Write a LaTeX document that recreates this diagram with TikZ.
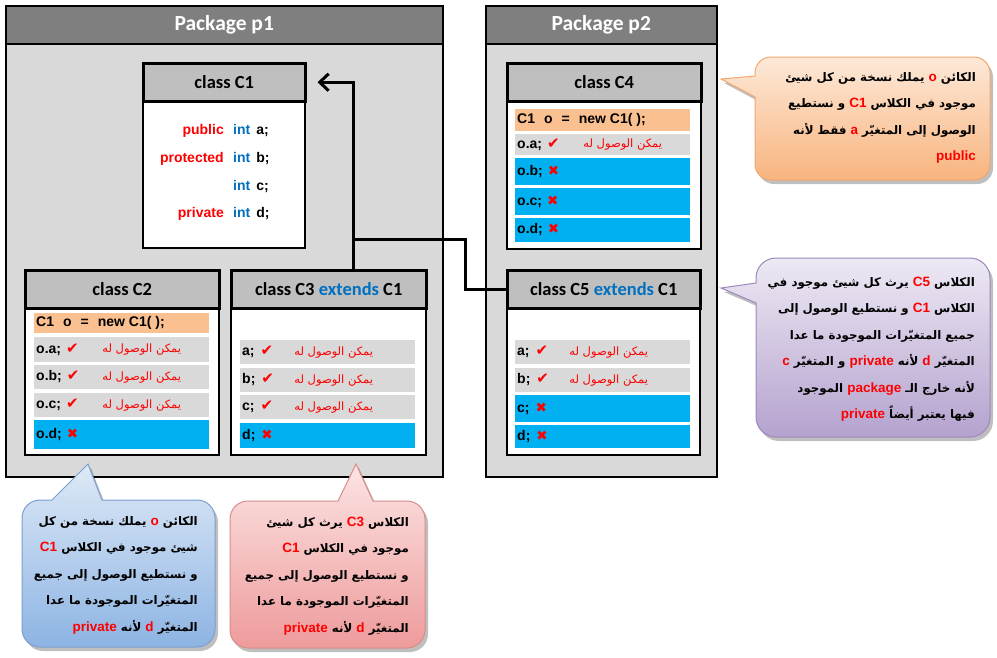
\documentclass[tikz,border=0pt]{standalone}
\usepackage{fontspec}
\setmainfont{Carlito}
\newfontfamily\arialf{Liberation Sans}
\newfontfamily\arabicfont[Script=Arabic]{DejaVu Sans}
\newfontfamily\symf{DejaVu Sans}
\usetikzlibrary{arrows.meta}
\TeXXeTstate=1
\definecolor{pkghead}{HTML}{7F7F7F}
\definecolor{pkgbody}{HTML}{D9D9D9}
\definecolor{chead}{HTML}{BFBFBF}
\definecolor{rowor}{HTML}{FAC090}
\definecolor{rowgr}{HTML}{D9D9D9}
\definecolor{rowbl}{HTML}{00B0F0}
\definecolor{kwred}{HTML}{FF0000}
\definecolor{intblue}{HTML}{0070C0}
\definecolor{orT}{HTML}{FDE9D9}\definecolor{orB}{HTML}{F8B47E}\definecolor{orD}{HTML}{F2A66E}
\definecolor{puT}{HTML}{EEE9F4}\definecolor{puB}{HTML}{B4A2CE}\definecolor{puD}{HTML}{9C88BC}
\definecolor{blT}{HTML}{DEE9F6}\definecolor{blB}{HTML}{8DB4E3}\definecolor{blD}{HTML}{7A9FCF}
\definecolor{reT}{HTML}{FCE4E4}\definecolor{reB}{HTML}{EE9B9B}\definecolor{reD}{HTML}{D98C8C}
\newcommand\redlat[1]{\beginL{\arialf\bfseries\fontsize{13.5}{14}\selectfont\color{kwred}#1}\endL}
\newcommand\chk{{\symf\fontsize{15}{15}\selectfont\color{kwred}✔}}
\newcommand\crs{{\symf\fontsize{13.5}{13.5}\selectfont\color{kwred}✖}}
\newcommand\acc{{\arabicfont\fontsize{11.5}{12}\selectfont\color{kwred}\beginR يمكن الوصول له\endR}}
\newcommand\crow[7]{%
  \node[rowst, fill=#6, minimum width=#4pt, minimum height=#5pt] (#1) at (#2,#3) {};
  \node[codest, anchor=west] (#1t) at ([xshift=2pt]#1.west) {#7};}
\newcommand\accl[3]{\node[inner sep=0] (#1) at ([xshift=#3pt]#2.center) {\acc};}
\def\opath{(755,97) -- (755,164) arc[start angle=180,end angle=90,radius=16] -- (974,180) arc[start angle=90,end angle=0,radius=16] -- (990,73) arc[start angle=0,end angle=-90,radius=16] -- (771,57) arc[start angle=-90,end angle=-180,radius=16] -- (755,76) -- (721,79) -- cycle}
\def\ppath{(756,303) -- (756,417) arc[start angle=180,end angle=90,radius=20] -- (970,437) arc[start angle=90,end angle=0,radius=20] -- (990,278) arc[start angle=0,end angle=-90,radius=20] -- (776,258) arc[start angle=-90,end angle=-180,radius=20] -- (756,283) -- (721,288) -- cycle}
\def\bpath{(102,500) -- (197,500) arc[start angle=-90,end angle=0,radius=18] -- (215,629) arc[start angle=0,end angle=90,radius=18] -- (40,647) arc[start angle=90,end angle=180,radius=18] -- (22,518) arc[start angle=180,end angle=270,radius=18] -- (52,500) -- (88,464) -- cycle}
\def\rpath{(373,501) -- (407,501) arc[start angle=-90,end angle=0,radius=18] -- (425,630) arc[start angle=0,end angle=90,radius=18] -- (248,648) arc[start angle=90,end angle=180,radius=18] -- (230,519) arc[start angle=180,end angle=270,radius=18] -- (338,501) -- (356,464) -- cycle}
\tikzset{
  pkgbox/.style={draw=black, line width=1.5pt, fill=pkgbody, anchor=north west, inner sep=0},
  pkghd/.style={draw=black, line width=1.5pt, fill=pkghead, anchor=north west, inner sep=0, text=white, font=\bfseries\fontsize{21.5}{24}\selectfont},
  cbox/.style={draw=black, line width=2pt, fill=white, anchor=north west, inner sep=0},
  chd/.style={draw=black, line width=2.5pt, fill=chead, anchor=north west, inner sep=0, font=\bfseries\fontsize{18.5}{20}\selectfont},
  rowst/.style={anchor=north west, inner sep=0, draw=none},
  codest/.style={font=\arialf\bfseries\fontsize{14}{16}\selectfont, inner sep=0, text height=10pt, text depth=3pt},
  conn/.style={line width=3pt, black, line join=miter},
  cshadow/.style={fill=black, opacity=0.25},
  calltext/.style={font=\arabicfont\bfseries\fontsize{11.8}{26.5}\selectfont, align=right, inner sep=0, anchor=east}
}
\begin{document}
\begin{tikzpicture}[x=1pt,y=-1pt]
\useasboundingbox (0,0) rectangle (997,657);
\fill[white] (0,0) rectangle (997,657);
% packages
\node[pkgbox, minimum width=437pt, minimum height=471pt] (p1) at (5,5) {};
\node[pkghd, minimum width=437pt, minimum height=38pt] (p1h) at (5,5) {Package p1};
\node[pkgbox, minimum width=231pt, minimum height=471pt] (p2) at (485,5) {};
\node[pkghd, minimum width=231pt, minimum height=38pt] (p2h) at (485,5) {Package p2};
% class boxes
\node[cbox, minimum width=162pt, minimum height=185pt] (c1) at (142,62) {};
\node[chd, minimum width=162pt, minimum height=38pt] (c1h) at (142,62) {class C1};
\node[cbox, minimum width=194pt, minimum height=185pt] (c2) at (24,269) {};
\node[chd, minimum width=194pt, minimum height=38pt] (c2h) at (24,269) {class C2};
\node[cbox, minimum width=195pt, minimum height=185pt] (c3) at (230,269) {};
\node[chd, minimum width=195pt, minimum height=38pt] (c3h) at (230,269) {class C3 \textcolor{intblue}{extends} C1};
\node[cbox, minimum width=194pt, minimum height=186pt] (c4) at (506,62) {};
\node[chd, minimum width=194pt, minimum height=38pt] (c4h) at (506,62) {class C4};
\node[cbox, minimum width=193pt, minimum height=185pt] (c5) at (506,269) {};
\node[chd, minimum width=193pt, minimum height=38pt] (c5h) at (506,269) {class C5 \textcolor{intblue}{extends} C1};
% connectors
\coordinate (jn) at (353,239);
\coordinate (bend) at (465,239);
\draw[conn, -{Straight Barb[length=9pt,width=17pt]}, shorten >=11pt] (c3h.north -| jn) |- (c1h.east);
\draw[conn] (c5h.west) -| (bend) -- (jn);
% C1 members
\node[codest, anchor=east, text=kwred] (k1) at (224,131) {public};
\node[codest, anchor=west] (v1) at (233,131) {\textcolor{intblue}{int}\hspace{6pt}a;};
\node[codest, anchor=east, text=kwred] (k2) at (224,159) {protected};
\node[codest, anchor=west] (v2) at (233,159) {\textcolor{intblue}{int}\hspace{6pt}b;};
\node[codest, anchor=west] (v3) at (233,187) {\textcolor{intblue}{int}\hspace{6pt}c;};
\node[codest, anchor=east, text=kwred] (k4) at (224,214) {private};
\node[codest, anchor=west] (v4) at (233,214) {\textcolor{intblue}{int}\hspace{6pt}d;};
% C2 rows
\crow{r20}{34}{313}{175}{20}{rowor}{C1\hspace{9pt}o\hspace{9pt}=\hspace{9pt}new C1(\hspace{4pt});}
\crow{r21}{34}{337}{175}{25}{rowgr}{o.a;\hspace{5pt}\chk}
\crow{r22}{34}{365}{175}{24}{rowgr}{o.b;\hspace{5pt}\chk}
\crow{r23}{34}{393}{175}{24}{rowgr}{o.c;\hspace{5pt}\chk}
\crow{r24}{34}{420}{175}{29}{rowbl}{o.d;\hspace{5pt}\crs}
\accl{a21}{r21}{20}\accl{a22}{r22}{20}\accl{a23}{r23}{20}
% C3 rows
\crow{r31}{240}{340}{175}{24}{rowgr}{a;\hspace{6pt}\chk}
\crow{r32}{240}{368}{175}{24}{rowgr}{b;\hspace{6pt}\chk}
\crow{r33}{240}{395}{175}{24}{rowgr}{c;\hspace{6pt}\chk}
\crow{r34}{240}{423}{175}{25}{rowbl}{d;\hspace{6pt}\crs}
\accl{a31}{r31}{6}\accl{a32}{r32}{6}\accl{a33}{r33}{6}
% C4 rows
\crow{r40}{515}{109}{175}{22}{rowor}{C1\hspace{9pt}o\hspace{9pt}=\hspace{9pt}new C1(\hspace{4pt});}
\crow{r41}{515}{134}{175}{21}{rowgr}{o.a;\hspace{5pt}\chk}
\crow{r42}{515}{158}{175}{27}{rowbl}{o.b;\hspace{5pt}\crs}
\crow{r43}{515}{188}{175}{27}{rowbl}{o.c;\hspace{5pt}\crs}
\crow{r44}{515}{218}{175}{24}{rowbl}{o.d;\hspace{5pt}\crs}
\accl{a41}{r41}{20}
% C5 rows
\crow{r51}{515}{340}{175}{24}{rowgr}{a;\hspace{6pt}\chk}
\crow{r52}{515}{368}{175}{24}{rowgr}{b;\hspace{6pt}\chk}
\crow{r53}{515}{395}{175}{27}{rowbl}{c;\hspace{6pt}\crs}
\crow{r54}{515}{425}{175}{23}{rowbl}{d;\hspace{6pt}\crs}
\accl{a51}{r51}{6}\accl{a52}{r52}{6}
% callouts
\fill[cshadow, shift={(3,4)}] \opath;
\path[draw=orD, line width=1pt, top color=orT, bottom color=orB] \opath;
\fill[cshadow, shift={(3,4)}] \ppath;
\path[draw=puD, line width=1pt, top color=puT, bottom color=puB] \ppath;
\fill[cshadow, shift={(3,4)}] \bpath;
\path[draw=blD, line width=1pt, top color=blT, bottom color=blB] \bpath;
\fill[cshadow, shift={(3,4)}] \rpath;
\path[draw=reD, line width=1pt, top color=reT, bottom color=reB] \rpath;
\node[calltext] (t1) at (976,118) {%
\beginR الكائن \redlat{o} يملك نسخة من كل شيئ\endR\\
\beginR موجود في الكلاس \redlat{C1} و نستطيع\endR\\
\beginR الوصول إلى المتغيّر \redlat{a} فقط لأنه\endR\\
\beginR\redlat{public}\endR};
\node[calltext] (t2) at (975,349) {%
\beginR الكلاس \redlat{C5} يرث كل شيئ موجود في\endR\\
\beginR الكلاس \redlat{C1} و نستطيع الوصول إلى\endR\\
\beginR جميع المتغيّرات الموجودة ما عدا\endR\\
\beginR المتغيّر \redlat{d} لأنه \redlat{private} و المتغيّر \redlat{c}\endR\\
\beginR لأنه خارج الـ \redlat{package} الموجود\endR\\
\beginR فيها يعتبر أيضاً \redlat{private}\endR};
\node[calltext] (t3) at (198,575) {%
\beginR الكائن \redlat{o} يملك نسخة من كل\endR\\
\beginR شيئ موجود في الكلاس \redlat{C1}\endR\\
\beginR و نستطيع الوصول إلى جميع\endR\\
\beginR المتغيّرات الموجودة ما عدا\endR\\
\beginR المتغيّر \redlat{d} لأنه \redlat{private}\endR};
\node[calltext] (t4) at (409,576) {%
\beginR الكلاس \redlat{C3} يرث كل شيئ\endR\\
\beginR موجود في الكلاس \redlat{C1}\endR\\
\beginR و نستطيع الوصول إلى جميع\endR\\
\beginR المتغيّرات الموجودة ما عدا\endR\\
\beginR المتغيّر \redlat{d} لأنه \redlat{private}\endR};
\end{tikzpicture}
\end{document}
